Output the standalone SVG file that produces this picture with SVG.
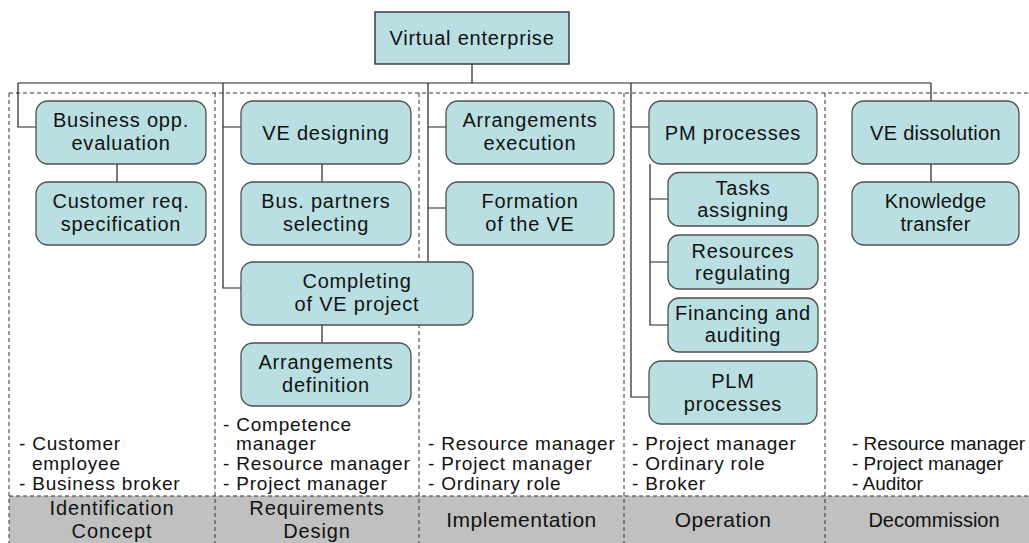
<svg xmlns="http://www.w3.org/2000/svg" width="1029" height="543" viewBox="0 0 1029 543">
<style>
.bx{fill:#b9dfe2;stroke:#505050;stroke-width:1.3}
.bt{font-family:"Liberation Sans",Arial,sans-serif;font-size:20px;letter-spacing:0.8px;fill:#111;text-anchor:middle}
.rt{font-family:"Liberation Sans",Arial,sans-serif;font-size:19px;letter-spacing:0.8px;fill:#111}
.gt{font-family:"Liberation Sans",Arial,sans-serif;font-size:21px;letter-spacing:0.5px;fill:#111;text-anchor:middle}
.g2{font-size:20px;letter-spacing:0.9px}
.dash{stroke:#333;stroke-width:1;stroke-dasharray:4 3;fill:none}
.cn{stroke:#222;stroke-width:1.2;fill:none}
</style>
<rect width="1029" height="543" fill="#fff"/>
<g id="frame">
<rect x="9" y="496" width="1020" height="47" fill="#c0c0c0"/>
<path class="dash" d="M9,93H1029M9,496H1029M9,93V543M215,93V543M419,93V543M624,93V543M825,93V543"/>
</g>
<g id="connectors">
<path class="cn" d="M472,64V83M18,83H931"/>
<path class="cn" d="M18,83V127H36M117,164V182"/>
<path class="cn" d="M223,83V288H241M223,127H241M322,164V182M322,325V343"/>
<path class="cn" d="M428,83V262M428,127H446M428,208H446"/>
<path class="cn" d="M631,83V397H649M631,127H649M650,164V325H668M650,199H668M650,262H668"/>
<path class="cn" d="M931,83V101M931,164V182"/>
</g>
<g id="n-ve"><rect x="375" y="12" width="194" height="52" fill="#b9dfe2" stroke="#222" stroke-width="1.3"/><text class="bt" x="472" y="45">Virtual enterprise</text></g>
<g id="n-bope"><rect class="bx" x="36" y="101" width="170" height="63" rx="12"/><text class="bt" x="121" y="127">Business opp.<tspan x="121" dy="22.5">evaluation</tspan></text></g>
<g id="n-crs"><rect class="bx" x="36" y="182" width="170" height="63" rx="12"/><text class="bt" x="121" y="208">Customer req.<tspan x="121" dy="22.5">specification</tspan></text></g>
<g id="n-ved"><rect class="bx" x="241" y="101" width="170" height="63" rx="12"/><text class="bt" x="326" y="139.5">VE designing</text></g>
<g id="n-bps"><rect class="bx" x="241" y="182" width="170" height="63" rx="12"/><text class="bt" x="326" y="208">Bus. partners<tspan x="326" dy="22.5">selecting</tspan></text></g>
<g id="n-cvp"><rect class="bx" x="241" y="262" width="232" height="63" rx="12"/><text class="bt" x="357" y="288">Completing<tspan x="357" dy="22.5">of VE project</tspan></text></g>
<g id="n-ard"><rect class="bx" x="241" y="343" width="170" height="63" rx="12"/><text class="bt" x="326" y="369">Arrangements<tspan x="326" dy="22.5">definition</tspan></text></g>
<g id="n-are"><rect class="bx" x="446" y="101" width="168" height="63" rx="12"/><text class="bt" x="530" y="127">Arrangements<tspan x="530" dy="22.5">execution</tspan></text></g>
<g id="n-fve"><rect class="bx" x="446" y="182" width="168" height="63" rx="12"/><text class="bt" x="530" y="208">Formation<tspan x="530" dy="22.5">of the VE</tspan></text></g>
<g id="n-pmp"><rect class="bx" x="649" y="101" width="168" height="63" rx="12"/><text class="bt" x="733" y="139.5">PM processes</text></g>
<g id="n-tas"><rect class="bx" x="668" y="172.5" width="150" height="53.5" rx="11"/><text class="bt" x="743" y="194.5">Tasks<tspan x="743" dy="22">assigning</tspan></text></g>
<g id="n-rer"><rect class="bx" x="668" y="235" width="150" height="54" rx="11"/><text class="bt" x="743" y="257.5">Resources<tspan x="743" dy="22">regulating</tspan></text></g>
<g id="n-fia"><rect class="bx" x="668" y="298" width="150" height="54" rx="11"/><text class="bt" x="743" y="320">Financing and<tspan x="743" dy="22">auditing</tspan></text></g>
<g id="n-plm"><rect class="bx" x="649" y="361" width="168" height="63" rx="12"/><text class="bt" x="733" y="388">PLM<tspan x="733" dy="22.5">processes</tspan></text></g>
<g id="n-vdi"><rect class="bx" x="852" y="101" width="167" height="63" rx="12"/><text class="bt" x="935.5" y="139.5" style="letter-spacing:0.3px">VE dissolution</text></g>
<g id="n-knt"><rect class="bx" x="852" y="182" width="167" height="63" rx="12"/><text class="bt" x="935.5" y="208" style="letter-spacing:0.3px">Knowledge<tspan x="935.5" dy="22.5">transfer</tspan></text></g>
<g id="roles">
<text class="rt" x="19" y="450">- Customer<tspan x="32" dy="20">employee</tspan><tspan x="19" dy="20">- Business broker</tspan></text>
<text class="rt" x="223" y="431">- Competence<tspan x="236" dy="19">manager</tspan><tspan x="223" dy="20">- Resource manager</tspan><tspan x="223" dy="20">- Project manager</tspan></text>
<text class="rt" x="428" y="450">- Resource manager<tspan x="428" dy="20">- Project manager</tspan><tspan x="428" dy="20">- Ordinary role</tspan></text>
<text class="rt" x="632" y="450">- Project manager<tspan x="632" dy="20">- Ordinary role</tspan><tspan x="632" dy="20">- Broker</tspan></text>
<text class="rt" x="852" y="450" style="letter-spacing:0">- Resource manager<tspan x="852" dy="20">- Project manager</tspan><tspan x="852" dy="20">- Auditor</tspan></text>
</g>
<g id="phases">
<text class="gt g2" x="112" y="515">Identification<tspan x="112" dy="23.2">Concept</tspan></text>
<text class="gt g2" x="317" y="515">Requirements<tspan x="317" dy="23.2">Design</tspan></text>
<text class="gt" x="521.5" y="527">Implementation</text>
<text class="gt" x="723" y="527">Operation</text>
<text class="gt" x="934" y="527" style="letter-spacing:0;font-size:20px">Decommission</text>
</g>
</svg>
